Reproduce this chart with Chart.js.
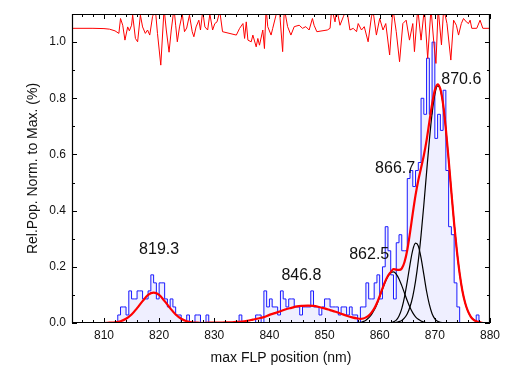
<!DOCTYPE html>
<html>
<head>
<meta charset="utf-8">
<script src="https://cdn.jsdelivr.net/npm/chart.js@4/dist/chart.umd.min.js"></script>
<style>
  html, body { margin: 0; padding: 0; background: #fff; }
  #chart { display: block; }
</style>
</head>
<body>
<canvas id="chart" width="505" height="367"></canvas>
<script>
// Histogram: bin start positions (0.5 nm bins) and counts, normalised to the max bin
const binStart = 812.5;
const binWidth = 0.5;
const histCounts = [
    0, 1, 2, 2, 1, 4, 3, 3, 4, 4, 3, 3, 4, 6, 5, 3, 5, 5, 3, 2,
    3, 2, 1, 1, 0, 0, 1, 0, 0, 1, 1, 0, 0, 1, 0, 0, 0, 0, 0, 0,
    0, 0, 0, 0, 0, 1, 0, 0, 0, 0, 0, 1, 1, 0, 4, 2, 3, 2, 2, 1,
    4, 3, 2, 3, 3, 2, 2, 1, 2, 2, 2, 4, 2, 2, 1, 2, 3, 3, 2, 2,
    2, 1, 2, 2, 1, 2, 1, 1, 0, 2, 2, 5, 3, 3, 5, 6, 3, 7, 12, 9,
    6, 3, 10, 11, 9, 9, 18, 19, 17, 19, 20, 28, 26, 33, 26, 35, 23, 26, 24, 29,
    19, 12, 11, 5, 2, 0, 0, 0, 0, 0, 0, 1, 0, 0, 0
];

// Cumulative fit (red)
const fitX = [
    804, 805, 806, 807, 808, 809, 810, 811, 812, 813, 814, 815, 816, 817, 818, 819, 820, 821, 822, 823,
    824, 825, 826, 827, 828, 829, 830, 831, 832, 833, 834, 835, 836, 837, 838, 839, 840, 841, 842, 843,
    844, 845, 846, 847, 848, 849, 850, 851, 852, 853, 854, 855,
    856, 856.5, 857, 857.5, 858, 858.5, 859, 859.5, 860, 860.5, 861, 861.5, 862, 862.5, 863, 863.5,
    864, 864.5, 865, 865.5, 866, 866.5, 867, 867.5, 868, 868.5, 869, 869.5, 870, 870.5, 871, 871.5,
    872, 872.5, 873, 873.5, 874, 874.5, 875, 875.5, 876, 876.5, 877, 877.5, 878, 878.5, 879, 880
];
const fitY = [
    0, 0, 0, 0, 0, 0, 0, 0.001, 0.002, 0.006, 0.015, 0.030, 0.053, 0.078, 0.100, 0.108, 0.100, 0.078, 0.053, 0.030,
    0.015, 0.006, 0.002, 0.001, 0, 0.001, 0.001, 0.001, 0.002, 0.002, 0.004, 0.005, 0.008, 0.012, 0.016, 0.021, 0.029, 0.035, 0.042, 0.049,
    0.054, 0.059, 0.061, 0.062, 0.061, 0.057, 0.052, 0.046, 0.040, 0.033, 0.026, 0.020,
    0.016, 0.015, 0.016, 0.020, 0.026, 0.037, 0.051, 0.071, 0.096, 0.123, 0.148, 0.168, 0.181, 0.192, 0.190, 0.189,
    0.194, 0.217, 0.260, 0.322, 0.391, 0.455, 0.508, 0.552, 0.596, 0.650, 0.715, 0.779, 0.829, 0.850, 0.833, 0.778,
    0.690, 0.582, 0.466, 0.354, 0.256, 0.176, 0.114, 0.071, 0.042, 0.023, 0.012, 0.006, 0.003, 0.001, 0, 0
];

// Peak components (black), shared x grid
const compX = [
    856, 856.5, 857, 857.5, 858, 858.5, 859, 859.5, 860, 860.5, 861, 861.5, 862, 862.5, 863, 863.5,
    864, 864.5, 865, 865.5, 866, 866.5, 867, 867.5, 868, 868.5, 869, 869.5, 870, 870.5, 871, 871.5,
    872, 872.5, 873, 873.5, 874, 874.5, 875, 875.5, 876, 876.5, 877, 877.5, 878, 878.5, 879
];
const peak862 = [
    0.001, 0.002, 0.005, 0.010, 0.018, 0.030, 0.046, 0.067, 0.093, 0.120, 0.146, 0.166, 0.179, 0.182, 0.174, 0.157,
    0.133, 0.106, 0.079, 0.055, 0.036, 0.022, 0.013, 0.007, 0.003, 0.001, 0, 0, 0, 0, 0, 0,
    0, 0, 0, 0, 0, 0, 0, 0, 0, 0, 0, 0, 0, 0, 0
];
const peak866 = [
    0, 0, 0, 0, 0, 0, 0, 0, 0, 0, 0, 0, 0.001, 0.004, 0.010, 0.025,
    0.051, 0.093, 0.148, 0.209, 0.260, 0.284, 0.274, 0.232, 0.173, 0.113, 0.066, 0.033, 0.015, 0.006, 0.002, 0.001,
    0, 0, 0, 0, 0, 0, 0, 0, 0, 0, 0, 0, 0, 0, 0
];
const peak870 = [
    0, 0, 0, 0, 0, 0, 0, 0, 0, 0, 0, 0, 0, 0, 0.002, 0.005,
    0.009, 0.018, 0.033, 0.058, 0.095, 0.149, 0.221, 0.313, 0.420, 0.536, 0.649, 0.746, 0.814, 0.844, 0.831, 0.777,
    0.690, 0.582, 0.466, 0.354, 0.256, 0.176, 0.114, 0.071, 0.042, 0.023, 0.012, 0.006, 0.003, 0.001, 0
];

// Noisy trace along the top (red, thin)
const topX = [
    804.2, 808, 810, 811, 812, 812.7, 813.0, 813.4, 813.8, 814.3, 814.6, 815.0, 815.2, 815.7, 816.1, 816.6,
    817.0, 817.5, 817.9, 818.3, 818.8, 819.3, 819.7, 820.3, 820.9, 821.3, 821.8, 822.2, 822.7, 823.0, 823.3, 823.7,
    824.2, 824.6, 825.0, 825.5, 826.0, 826.3, 826.7, 827.2, 827.5, 827.9, 828.3, 828.8, 829.2, 829.7, 830.1, 830.5,
    831.0, 831.5, 834.0, 834.6, 835.2, 835.5, 835.8, 836.1, 836.7, 837.0, 837.6, 837.9, 838.2, 838.8, 839.1, 839.4,
    839.7, 840.3, 840.6, 841.5, 841.8, 842.1, 842.4, 842.7, 843.3, 843.9, 844.5, 845.4, 846.0, 846.6, 847.2, 847.8,
    848.1, 848.6, 850.5, 851.0, 851.3, 851.9, 852.2, 852.8, 853.4, 854.0, 854.6, 855.2, 855.8, 856.1, 856.7, 857.2,
    857.9, 858.5, 858.8, 859.4, 860.0, 860.6, 861.1, 861.8, 862.4, 863.0, 863.6, 864.2, 864.8, 865.4, 866.0, 866.3,
    866.9, 867.5, 868.1, 868.7, 869.3, 869.8, 870.2, 870.6, 871.2, 871.6, 872.2, 872.9, 873.4, 873.9, 874.3, 874.8,
    875.2, 875.7, 876.1, 876.4, 876.7, 877.6, 878.2, 878.7, 880.0
];
const topY = [
    1.049, 1.049, 1.048, 1.046, 1.040, 1.031, 1.084, 1.060, 1.007, 1.054, 1.040, 1.060, 1.096, 1.013, 1.001, 1.096,
    1.054, 1.031, 1.043, 1.025, 1.090, 1.120, 1.031, 0.918, 1.120, 1.043, 0.964, 1.043, 1.120, 1.060, 1.001, 1.054,
    1.100, 1.037, 1.050, 1.096, 1.037, 1.019, 1.054, 1.078, 1.043, 1.110, 1.054, 1.043, 1.100, 1.043, 1.066, 1.072,
    1.110, 1.037, 1.025, 1.049, 1.066, 1.013, 1.072, 1.007, 1.001, 1.025, 0.983, 1.013, 0.989, 1.043, 0.977, 1.120,
    1.055, 1.025, 1.049, 1.120, 1.120, 1.043, 0.966, 1.120, 1.055, 1.025, 1.055, 1.060, 1.049, 1.055, 1.043, 1.084,
    1.060, 1.037, 1.043, 1.049, 1.120, 1.072, 1.120, 1.060, 1.090, 1.120, 1.043, 1.049, 1.037, 1.066, 1.043, 1.055,
    1.001, 1.090, 1.110, 1.025, 1.084, 1.043, 1.066, 0.954, 1.120, 1.037, 0.930, 1.066, 1.078, 1.007, 1.066, 0.966,
    1.120, 1.007, 1.120, 0.942, 1.120, 1.001, 0.924, 1.120, 0.990, 1.120, 1.066, 0.936, 1.078, 1.060, 1.025, 1.066,
    1.084, 1.072, 1.066, 1.078, 1.049, 1.049, 1.078, 1.049, 1.049
];

// Peak labels
const peakLabels = ['819.3', '846.8', '862.5', '866.7', '870.6'];
const labelAtX = [820.0, 845.8, 858.1, 862.8, 874.8];
const labelAtY = [0.263, 0.167, 0.242, 0.55, 0.868];

// Axis ticks
const xTicks = [810, 820, 830, 840, 850, 860, 870, 880];
const yTicks = [0, 0.2, 0.4, 0.6, 0.8, 1.0];

const FONT = '"Liberation Sans", Arial, sans-serif';
const maxCount = Math.max(...histCounts);

function toPoints(xs, ys) {
    return xs.map((x, i) => ({ x: x, y: ys[i] }));
}

// step outline: one point per bin edge, closed back to zero at the end
const histData = histCounts.map((c, i) => ({ x: binStart + binWidth * i, y: c / maxCount }));
histData.push({ x: binStart + binWidth * histCounts.length, y: 0 });

// Frame with inward ticks on all four sides
const framePlugin = {
    id: 'frame',
    afterDatasetsDraw(chart) {
        const { ctx, chartArea: a, scales: { x, y } } = chart;
        ctx.save();
        ctx.strokeStyle = '#000';
        ctx.lineWidth = 1.2;
        ctx.beginPath();
        ctx.rect(a.left + 0.5, a.top + 0.5, a.right - a.left - 1, a.bottom - a.top - 1);
        ctx.stroke();

        ctx.lineWidth = 1;
        ctx.beginPath();
        for (let v = 806; v <= 880; v += 2) {
            const len = (v % 10 === 0) ? 5 : 3;
            const px = Math.round(x.getPixelForValue(v)) + 0.5;
            ctx.moveTo(px, a.bottom);
            ctx.lineTo(px, a.bottom - len);
            ctx.moveTo(px, a.top);
            ctx.lineTo(px, a.top + len);
        }
        for (let k = 0; k <= 10; k++) {
            const v = k / 10;
            const len = (k % 2 === 0) ? 5 : 3;
            const py = Math.round(y.getPixelForValue(v)) + 0.5;
            ctx.moveTo(a.left, py);
            ctx.lineTo(a.left + len, py);
            ctx.moveTo(a.right, py);
            ctx.lineTo(a.right - len, py);
        }
        ctx.stroke();

        // peak position labels
        ctx.fillStyle = '#111';
        ctx.font = '16px ' + FONT;
        ctx.textAlign = 'center';
        ctx.textBaseline = 'middle';
        peakLabels.forEach((t, i) => {
            ctx.fillText(t, x.getPixelForValue(labelAtX[i]), y.getPixelForValue(labelAtY[i]));
        });
        ctx.restore();
    }
};

const blackLine = {
    type: 'line',
    borderColor: '#000',
    borderWidth: 1.2,
    pointRadius: 0,
    tension: 0.4,
    cubicInterpolationMode: 'monotone',
    fill: false
};

new Chart(document.getElementById('chart'), {
    type: 'line',
    data: {
        datasets: [
            {
                data: toPoints(topX, topY),
                borderColor: '#ff0000',
                borderWidth: 1,
                pointRadius: 0,
                tension: 0,
                order: 0
            },
            {
                data: toPoints(fitX, fitY),
                borderColor: '#ff0000',
                borderWidth: 2.2,
                pointRadius: 0,
                tension: 0.4,
                cubicInterpolationMode: 'monotone',
                order: 1
            },
            Object.assign({ data: toPoints(compX, peak862), order: 2 }, blackLine),
            Object.assign({ data: toPoints(compX, peak866), order: 2 }, blackLine),
            Object.assign({ data: toPoints(compX, peak870), order: 2 }, blackLine),
            {
                data: histData,
                stepped: 'after',
                borderColor: '#1a1aff',
                borderWidth: 1,
                pointRadius: 0,
                fill: 'origin',
                backgroundColor: 'rgba(120, 120, 255, 0.12)',
                order: 3
            }
        ]
    },
    options: {
        responsive: false,
        animation: false,
        devicePixelRatio: 1,
        layout: { padding: { top: 14, right: 11, left: 0, bottom: 0 } },
        plugins: {
            legend: { display: false },
            tooltip: { enabled: false }
        },
        scales: {
            x: {
                type: 'linear',
                min: 804.2,
                max: 880,
                offset: false,
                grid: { display: false, drawTicks: false },
                border: { display: false },
                afterBuildTicks: (s) => { s.ticks = xTicks.map(v => ({ value: v })); },
                afterFit: (s) => { s.height = 44; },
                ticks: {
                    color: '#111',
                    padding: 5,
                    maxRotation: 0,
                    font: { family: FONT, size: 12 },
                    callback: (v) => String(v)
                },
                title: {
                    display: true,
                    text: 'max FLP position (nm)',
                    color: '#111',
                    padding: 0,
                    font: { family: FONT, size: 14 }
                }
            },
            y: {
                type: 'linear',
                min: 0,
                max: 1.1,
                grid: { display: false, drawTicks: false },
                border: { display: false },
                afterBuildTicks: (s) => { s.ticks = yTicks.map(v => ({ value: v })); },
                afterFit: (s) => { s.width = 72; },
                ticks: {
                    color: '#111',
                    padding: 6,
                    font: { family: FONT, size: 12 },
                    callback: (v) => Number(v).toFixed(1)
                },
                title: {
                    display: true,
                    text: 'Rel.Pop. Norm. to Max. (%)',
                    color: '#111',
                    padding: { top: 25, bottom: 0 },
                    font: { family: FONT, size: 14 }
                }
            }
        }
    },
    plugins: [framePlugin]
});
</script>
</body>
</html>
